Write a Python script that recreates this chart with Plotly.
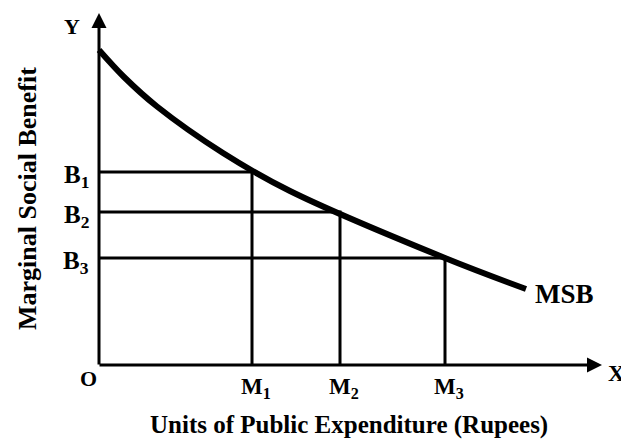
import plotly.graph_objects as go

# Data (arbitrary units of the conceptual diagram)
msb_x = [0.0, 0.5, 1.16, 2.48, 3.82, 6.92, 8.54]
msb_y = [6.30, 5.76, 5.17, 4.24, 3.48, 2.14, 1.52]
m_labels = ["M<sub>1</sub>", "M<sub>2</sub>", "M<sub>3</sub>"]
m_values = [3.06, 4.82, 6.92]
b_labels = ["B<sub>1</sub>", "B<sub>2</sub>", "B<sub>3</sub>"]
b_values = [3.86, 3.06, 2.14]
x_axis_end = 10.06
y_axis_end = 7.04

FONT = "Liberation Serif"
fig = go.Figure()

# Guide lines
for mx, by in zip(m_values, b_values):
    fig.add_trace(go.Scatter(x=[0, mx, mx], y=[by, by, 0], mode="lines",
                             line=dict(color="black", width=3), hoverinfo="skip",
                             showlegend=False))

# MSB curve
fig.add_trace(go.Scatter(x=msb_x, y=msb_y, mode="lines",
                         line=dict(color="black", width=6, shape="spline", smoothing=1.0),
                         showlegend=False, hoverinfo="skip"))

# Axes with arrows
fig.add_annotation(x=x_axis_end, y=0, ax=-0.02, ay=0, xref="x", yref="y", axref="x", ayref="y",
                   showarrow=True, arrowhead=2, arrowsize=1.0, arrowwidth=3, arrowcolor="black", text="")
fig.add_annotation(x=0, y=y_axis_end, ax=0, ay=-0.02, xref="x", yref="y", axref="x", ayref="y",
                   showarrow=True, arrowhead=2, arrowsize=1.0, arrowwidth=3, arrowcolor="black", text="")

def lab(x, y, t, size=23, **kw):
    fig.add_annotation(x=x, y=y, xref="x", yref="y", text=t, showarrow=False,
                       font=dict(family=FONT, size=size, color="black"), **kw)

lab(-0.54, 6.78, "<b>Y</b>", size=22)
lab(10.34, -0.16, "<b>X</b>", size=23)
lab(-0.22, -0.26, "<b>O</b>", size=22)
lab(9.3, 1.42, "<b>MSB</b>", size=27)
for mx, t in zip(m_values, m_labels):
    lab(mx + 0.08, -0.46, "<b>" + t + "</b>", size=23)
for by, t in zip(b_values, b_labels):
    lab(-0.46, by - 0.08, "<b>" + t + "</b>", size=25)

lab(5.0, -1.2, "<b>Units of Public Expenditure (Rupees)</b>", size=25)
fig.add_annotation(x=-1.44, y=3.32, xref="x", yref="y", textangle=-90,
                   text="<b>Marginal Social Benefit</b>", showarrow=False,
                   font=dict(family=FONT, size=26, color="black"))

fig.update_xaxes(range=[-1.82, 10.76], visible=False)
fig.update_yaxes(range=[-1.64, 7.14], visible=False)
fig.update_layout(width=629, height=439, margin=dict(l=0, r=0, t=0, b=0),
                  plot_bgcolor="white", paper_bgcolor="white")

fig.write_html("out.html")
